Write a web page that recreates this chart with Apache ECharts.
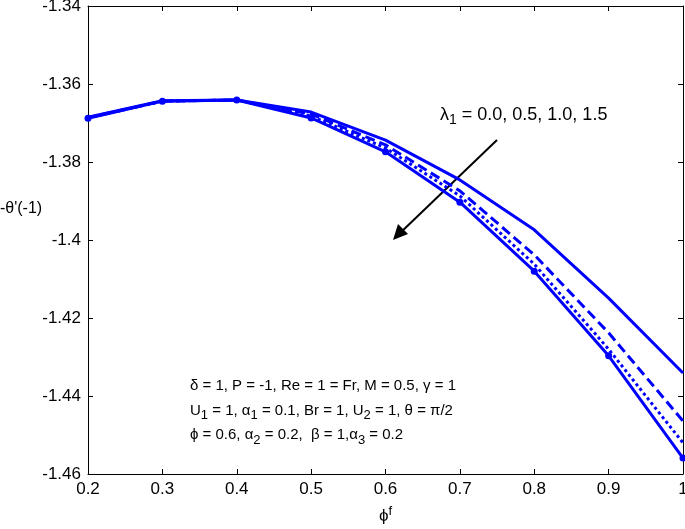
<!DOCTYPE html>
<html>
<head>
<meta charset="utf-8">
<script src="https://cdn.jsdelivr.net/npm/echarts@6/dist/echarts.min.js"></script>
<style>
  html, body { margin: 0; padding: 0; background: #fff; }
  #chart { width: 685px; height: 529px; }
</style>
</head>
<body>
<div id="chart"></div>
<script>
// phi^f values on the x axis
const phiF = [0.2, 0.3, 0.4, 0.5, 0.6, 0.7, 0.8, 0.9, 1.0]
// -theta'(-1) for lambda_1 = 0.0, 0.5, 1.0, 1.5
const lambda00 = [-1.3685, -1.3643, -1.3641, -1.3672, -1.3744, -1.3846, -1.3974, -1.4149, -1.4341]
const lambda05 = [-1.3686, -1.3644, -1.3641, -1.3677, -1.3756, -1.3874, -1.4038, -1.4238, -1.4464]
const lambda10 = [-1.3687, -1.3644, -1.3641, -1.3682, -1.3764, -1.3887, -1.4062, -1.4280, -1.4520]
const lambda15 = [-1.3688, -1.3644, -1.3641, -1.3687, -1.3774, -1.3903, -1.4080, -1.4297, -1.4559]
const xTicks = [0.2, 1.0, 0.1]       // min, max, interval
const yTicks = [-1.46, -1.34, 0.02]

const FONT = 'Liberation Sans, Arial, sans-serif'
const BLUE = '#0000ff'

const pairs = (ys) => phiF.map((x, i) => [x, ys[i]])
const fmt = (v) => String(parseFloat(v.toFixed(2)))

const axisCommon = {
  axisLine: {show: true, lineStyle: {color: '#000', width: 1}},
  axisTick: {show: true, inside: true, length: 5, lineStyle: {color: '#000'}},
  splitLine: {show: false}
}

const line = (name, ys, type, symbol) => ({
  name: name,
  type: 'line',
  data: pairs(ys),
  symbol: symbol ? 'circle' : 'none',
  symbolSize: 7,
  showSymbol: !!symbol,
  itemStyle: {color: BLUE},
  lineStyle: {color: BLUE, width: 3, type: type},
  animation: false
})

const chart = echarts.init(document.getElementById('chart'))
chart.setOption({
  animation: false,
  grid: {left: 88, right: 2, top: 6, bottom: 55, containLabel: false, outerBoundsMode: 'none'},
  xAxis: [
    Object.assign({
      type: 'value', min: xTicks[0], max: xTicks[1], interval: xTicks[2],
      position: 'bottom',
      name: '{b|ϕ}{sup|f}', nameLocation: 'middle', nameGap: 31,
      nameTextStyle: {
        rich: {
          b: {fontFamily: FONT, fontSize: 17, color: '#000'},
          sup: {fontFamily: FONT, fontSize: 13, color: '#000', verticalAlign: 'top', padding: [0, 0, 10, 0]}
        }
      },
      axisLabel: {fontFamily: FONT, fontSize: 17, color: '#000', margin: 7, formatter: fmt}
    }, axisCommon),
    Object.assign({
      type: 'value', min: xTicks[0], max: xTicks[1], interval: xTicks[2],
      position: 'top', axisLabel: {show: false}
    }, axisCommon)
  ],
  yAxis: [
    Object.assign({
      type: 'value', min: yTicks[0], max: yTicks[1], interval: yTicks[2],
      position: 'left',
      axisLabel: {fontFamily: FONT, fontSize: 17, color: '#000', margin: 7, formatter: fmt}
    }, axisCommon),
    Object.assign({
      type: 'value', min: yTicks[0], max: yTicks[1], interval: yTicks[2],
      position: 'right', axisLabel: {show: false}
    }, axisCommon)
  ],
  series: [
    line('λ1 = 0.0', lambda00, 'solid', false),
    line('λ1 = 0.5', lambda05, [10, 5], false),
    line('λ1 = 1.0', lambda10, [3, 3], false),
    line('λ1 = 1.5', lambda15, 'solid', true)
  ],
  graphic: [
    {
      // y axis title
      type: 'text', left: 0, top: 201,
      style: {text: "-θ'(-1)", font: '16px ' + FONT, fill: '#000'}
    },
    {
      type: 'text', left: 440, top: 106,
      style: {
        text: 'λ{sub|1} = 0.0, 0.5, 1.0, 1.5',
        font: '18px ' + FONT, fill: '#000',
        rich: {sub: {fontSize: 14, fontFamily: FONT, fill: '#000', padding: [11, 0, 0, 0]}}
      }
    },
    {
      type: 'line',
      shape: {x1: 497, y1: 140, x2: 398, y2: 235},
      style: {stroke: '#000', lineWidth: 2}
    },
    {
      type: 'polygon',
      shape: {points: [[393, 240], [398, 224], [408, 234]]},
      style: {fill: '#000'}
    },
    {
      type: 'text', left: 190, top: 374,
      style: {
        text: 'δ = 1, P = -1, Re = 1 = Fr, M = 0.5, γ = 1\n' +
              'U{sub|1} = 1, α{sub|1} = 0.1, Br = 1, U{sub|2} = 1, θ = π/2\n' +
              'ϕ = 0.6, α{sub|2} = 0.2,  β = 1,α{sub|3} = 0.2',
        font: '15px ' + FONT, fill: '#000', lineHeight: 24.5,
        rich: {sub: {fontSize: 13, fontFamily: FONT, fill: '#000', padding: [10, 0, 0, 0]}}
      }
    }
  ]
})
</script>
</body>
</html>
